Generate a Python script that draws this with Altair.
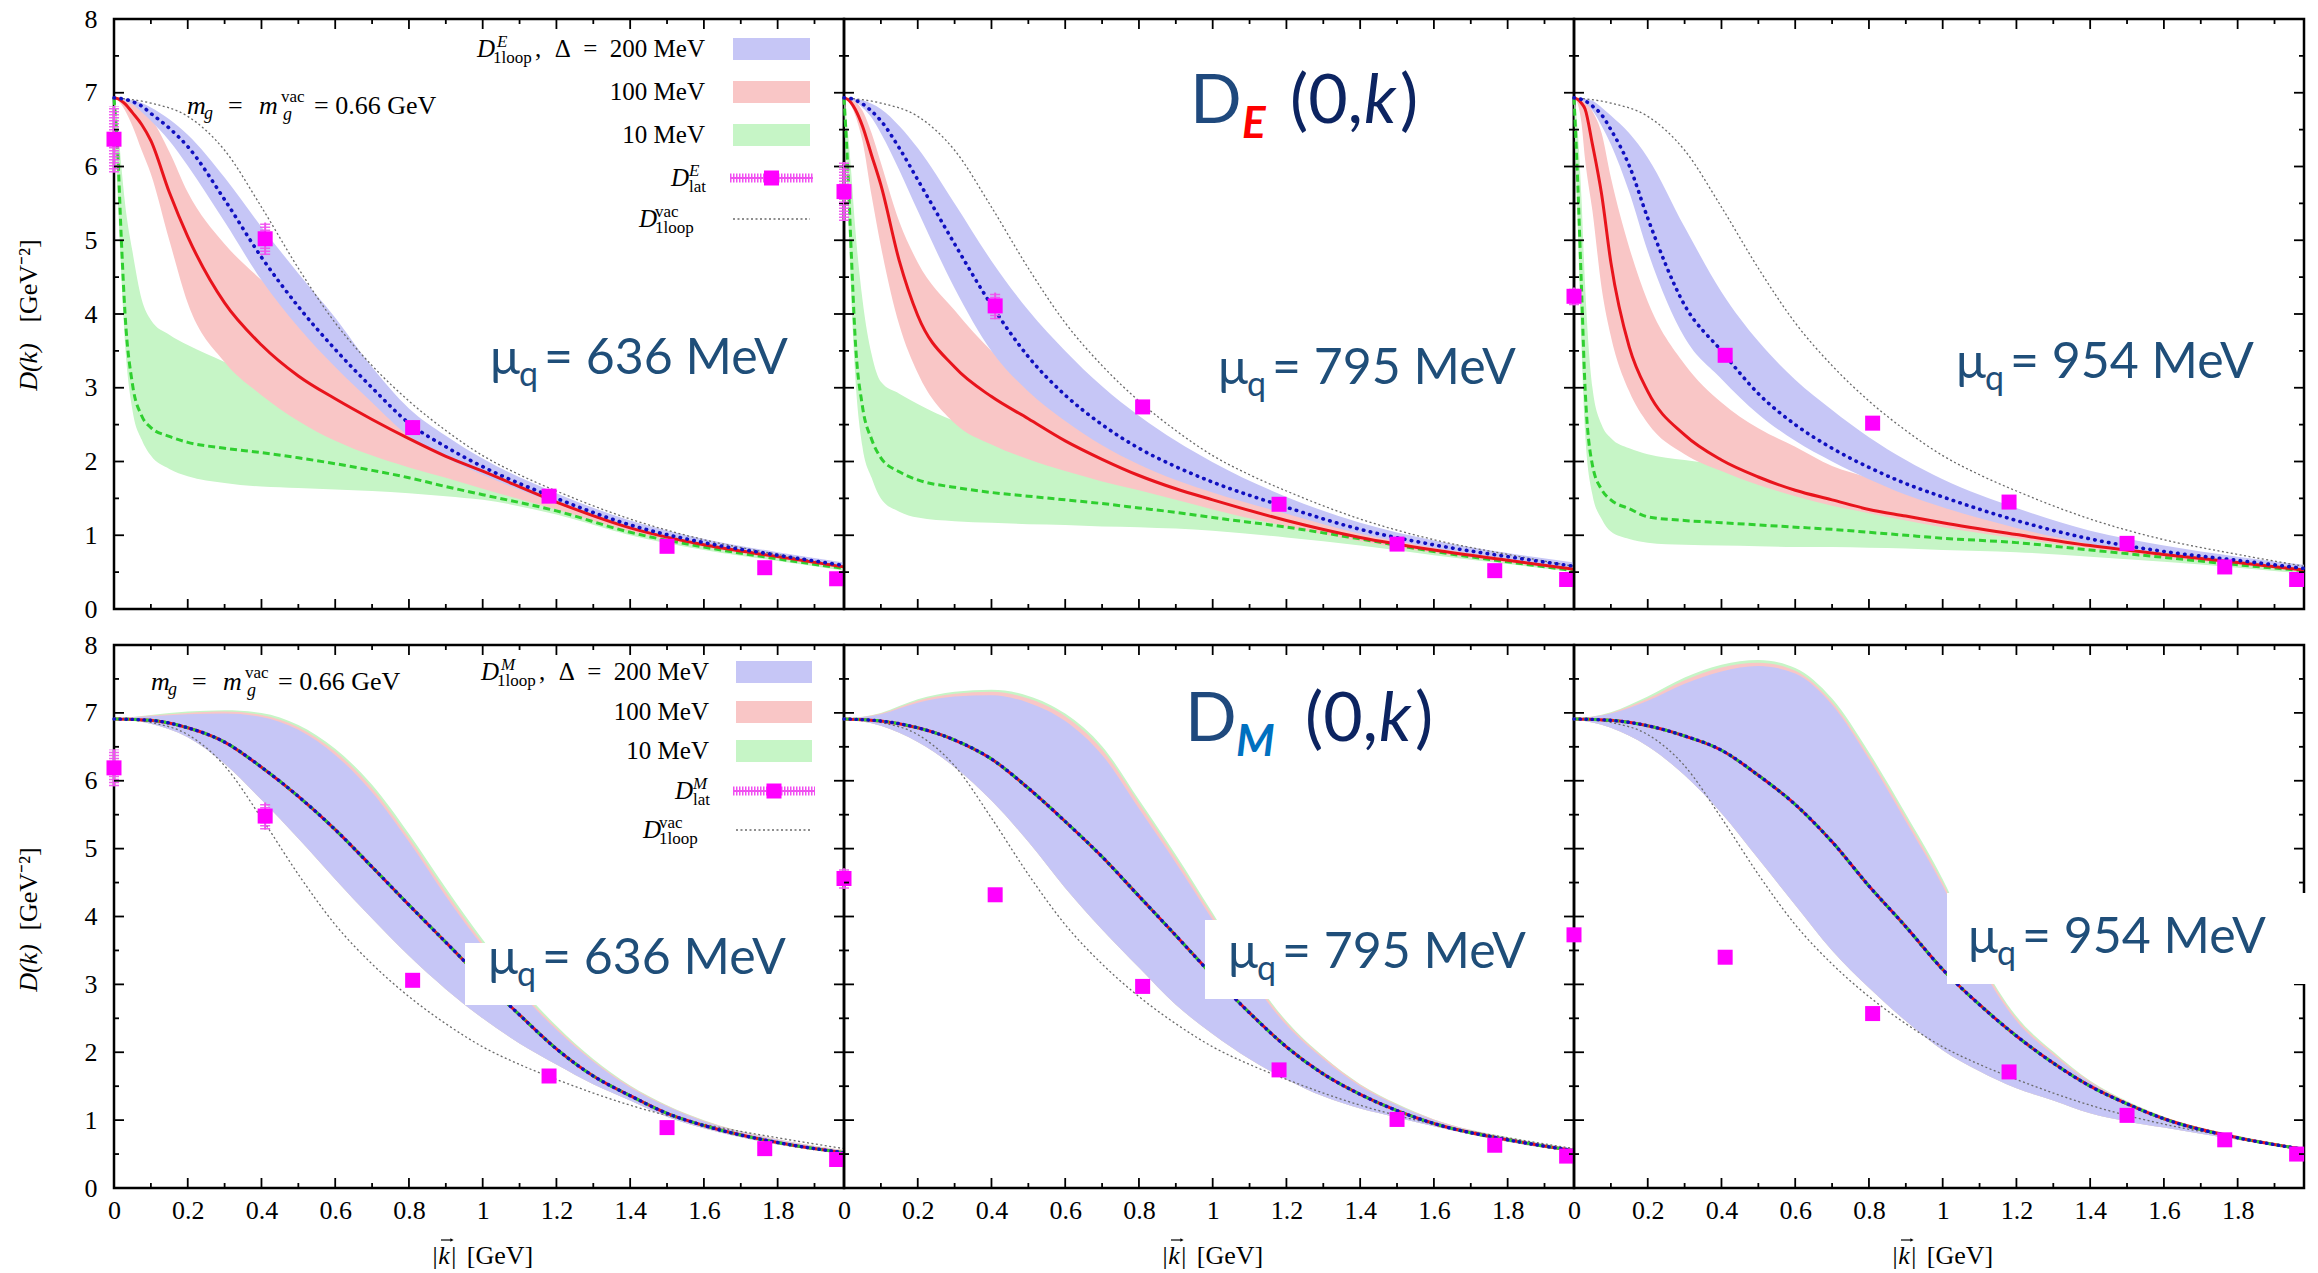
import altair as alt
import pandas as pd

# ------------------------------------------------------------------ data
K_TOP = [0, 0.01, 0.02, 0.03, 0.05, 0.075, 0.1, 0.15, 0.2, 0.3, 0.4, 0.5, 0.6, 0.7, 0.8, 0.9, 1.0, 1.2, 1.4, 1.6, 1.8, 1.98]
K_BOT = [0, 0.1, 0.2, 0.3, 0.4, 0.5, 0.6, 0.7, 0.8, 0.9, 1.0, 1.1, 1.2, 1.3, 1.4, 1.5, 1.6, 1.8, 1.98]
K_VAC = [0, 0.1, 0.2, 0.3, 0.4, 0.5, 0.6, 0.7, 0.8, 0.9, 1.0, 1.1, 1.2, 1.4, 1.6, 1.8, 1.98]
D_VAC = [6.93, 6.86, 6.68, 6.22, 5.45, 4.62, 3.88, 3.30, 2.82, 2.42, 2.08, 1.82, 1.60, 1.22, 0.94, 0.74, 0.58]

K_LAT = [0.0, 0.41, 0.81, 1.18, 1.50, 1.765, 1.96]

# --- electric, mu_q = 636 MeV
E636_BLUE_LO = [6.93,6.92,6.91,6.89,6.84,6.74,6.62,6.35,6.01,5.25,4.46,3.82,3.28,2.80,2.34,2.05,1.82,1.43,1.09,0.86,0.70,0.56]
E636_BLUE_HI = [6.93,6.93,6.93,6.92,6.90,6.86,6.80,6.64,6.43,5.85,5.18,4.55,3.95,3.28,2.72,2.35,2.04,1.57,1.20,0.95,0.77,0.63]
E636_BLUE_LN = [6.93,6.93,6.92,6.91,6.88,6.82,6.72,6.52,6.27,5.55,4.77,4.10,3.52,3.00,2.52,2.20,1.93,1.50,1.14,0.90,0.73,0.59]
E636_RED_LO = [6.93,6.90,6.84,6.76,6.55,6.22,5.90,5.00,4.15,3.35,2.90,2.55,2.28,2.08,1.92,1.78,1.63,1.35,1.05,0.84,0.68,0.55]
E636_RED_HI = [6.93,6.93,6.92,6.90,6.85,6.76,6.65,6.20,5.65,4.95,4.46,4.00,3.55,3.08,2.62,2.28,2.02,1.55,1.16,0.92,0.74,0.60]
E636_RED_LN = [6.93,6.92,6.89,6.85,6.73,6.57,6.35,5.65,5.05,4.15,3.58,3.16,2.85,2.57,2.31,2.07,1.87,1.45,1.10,0.87,0.71,0.57]
E636_GREEN_LO = [6.93,5.60,4.50,3.60,2.70,2.30,2.08,1.90,1.80,1.71,1.66,1.64,1.62,1.60,1.57,1.53,1.48,1.28,1.00,0.80,0.65,0.52]
E636_GREEN_LN = [6.93,6.20,5.00,4.00,3.05,2.62,2.46,2.34,2.26,2.18,2.12,2.05,1.97,1.88,1.78,1.66,1.55,1.33,1.04,0.84,0.68,0.55]
E636_GREEN_HI = [6.93,6.60,6.00,5.50,4.85,4.20,3.92,3.72,3.58,3.35,3.12,2.85,2.60,2.38,2.15,1.95,1.78,1.42,1.08,0.86,0.70,0.57]
E636_LAT = [6.37, 5.02, 2.46, 1.53, 0.85, 0.56, 0.41]
E636_ERR = [0.45, 0.22, 0.10, 0.07, 0.05, 0.04, 0.04]

# --- electric, mu_q = 795 MeV
E795_BLUE_LO = [6.93,6.92,6.91,6.88,6.80,6.66,6.45,5.95,5.40,4.35,3.50,2.95,2.55,2.22,1.96,1.75,1.58,1.29,1.02,0.83,0.68,0.55]
E795_BLUE_HI = [6.93,6.93,6.93,6.92,6.90,6.85,6.78,6.55,6.25,5.50,4.72,4.05,3.50,3.02,2.62,2.28,1.99,1.52,1.17,0.93,0.76,0.63]
E795_BLUE_LN = [6.93,6.93,6.92,6.90,6.85,6.75,6.62,6.25,5.82,4.95,4.12,3.42,2.90,2.50,2.18,1.93,1.72,1.38,1.08,0.87,0.71,0.58]
E795_RED_LO = [6.93,6.90,6.82,6.70,6.35,5.60,4.92,3.85,3.20,2.52,2.23,2.03,1.87,1.73,1.61,1.48,1.35,1.12,0.92,0.76,0.63,0.52]
E795_RED_HI = [6.93,6.93,6.91,6.88,6.76,6.45,6.05,5.25,4.70,4.05,3.50,3.10,2.78,2.50,2.27,2.07,1.88,1.45,1.10,0.88,0.72,0.59]
E795_RED_LN = [6.93,6.91,6.86,6.78,6.55,6.15,5.75,4.72,3.98,3.28,2.88,2.58,2.28,2.03,1.81,1.63,1.48,1.20,0.97,0.80,0.66,0.54]
E795_GREEN_LO = [6.93,5.50,4.20,3.20,2.20,1.78,1.50,1.32,1.24,1.19,1.17,1.15,1.14,1.12,1.11,1.09,1.06,0.97,0.86,0.73,0.61,0.50]
E795_GREEN_LN = [6.93,6.00,4.80,3.70,2.75,2.30,2.05,1.86,1.75,1.65,1.58,1.53,1.48,1.43,1.37,1.31,1.24,1.11,0.95,0.78,0.64,0.52]
E795_GREEN_HI = [6.93,6.50,5.90,5.20,4.20,3.45,3.08,2.92,2.78,2.55,2.40,2.25,2.10,1.96,1.82,1.68,1.55,1.30,1.02,0.82,0.67,0.55]
E795_LAT = [5.66, 4.11, 2.74, 1.42, 0.88, 0.52, 0.40]
E795_ERR = [0.40, 0.18, 0.08, 0.06, 0.05, 0.04, 0.03]

# --- electric, mu_q = 954 MeV
E954_BLUE_LO = [6.93,6.92,6.90,6.86,6.76,6.55,6.30,5.65,4.85,3.68,3.12,2.64,2.28,2.00,1.76,1.55,1.38,1.10,0.88,0.73,0.62,0.52]
E954_BLUE_HI = [6.93,6.93,6.93,6.92,6.89,6.80,6.69,6.45,6.12,5.18,4.30,3.63,3.11,2.70,2.33,2.02,1.76,1.37,1.06,0.86,0.71,0.60]
E954_BLUE_LN = [6.93,6.93,6.91,6.89,6.82,6.70,6.50,6.01,5.30,4.12,3.50,2.92,2.50,2.18,1.92,1.70,1.52,1.20,0.95,0.78,0.66,0.55]
E954_RED_LO = [6.93,6.85,6.60,6.10,5.40,4.35,3.70,2.95,2.52,2.10,1.87,1.68,1.53,1.40,1.30,1.20,1.11,0.96,0.82,0.70,0.60,0.50]
E954_RED_HI = [6.93,6.93,6.91,6.88,6.75,6.45,5.85,4.90,4.17,3.32,2.80,2.45,2.20,1.94,1.78,1.62,1.50,1.24,1.00,0.82,0.69,0.57]
E954_RED_LN = [6.93,6.91,6.86,6.78,6.30,5.62,4.70,3.55,2.95,2.36,2.02,1.79,1.61,1.48,1.35,1.26,1.17,1.01,0.86,0.74,0.63,0.53]
E954_GREEN_LO = [6.93,5.20,3.60,2.40,1.55,1.22,1.05,0.95,0.90,0.87,0.86,0.85,0.84,0.84,0.83,0.82,0.80,0.77,0.71,0.64,0.56,0.48]
E954_GREEN_LN = [6.93,5.80,4.40,3.00,1.95,1.62,1.48,1.36,1.25,1.20,1.17,1.14,1.11,1.08,1.04,1.00,0.96,0.90,0.80,0.70,0.60,0.52]
E954_GREEN_HI = [6.93,6.50,5.60,4.40,3.00,2.50,2.32,2.18,2.10,2.02,1.95,1.85,1.75,1.65,1.55,1.45,1.36,1.15,0.95,0.78,0.66,0.55]
E954_LAT = [4.24, 3.44, 2.52, 1.45, 0.89, 0.57, 0.40]
E954_ERR = [0.12, 0.06, 0.05, 0.05, 0.04, 0.03, 0.03]

# --- magnetic, mu_q = 636 MeV  (the three Delta curves coincide)
M636_LN = [6.91,6.89,6.78,6.57,6.20,5.77,5.28,4.73,4.17,3.62,3.07,2.55,2.05,1.65,1.36,1.10,0.92,0.67,0.52]
M636_BAND_LO = [6.91,6.84,6.64,6.25,5.72,5.15,4.55,3.97,3.42,2.93,2.50,2.13,1.82,1.53,1.29,1.05,0.88,0.64,0.50]
M636_BLUE_HI = [6.91,6.95,6.98,6.99,6.94,6.75,6.38,5.83,5.10,4.30,3.56,2.89,2.33,1.86,1.48,1.20,0.98,0.71,0.55]
M636_RED_HI = [6.91,6.96,7.00,7.02,6.97,6.79,6.43,5.89,5.16,4.36,3.61,2.93,2.36,1.88,1.50,1.21,0.99,0.72,0.56]
M636_GREEN_HI = [6.91,6.97,7.02,7.04,7.00,6.82,6.47,5.94,5.22,4.42,3.66,2.97,2.39,1.90,1.51,1.22,1.00,0.72,0.56]
M636_LAT = [6.19, 5.48, 3.06, 1.65, 0.89, 0.58, 0.42]
M636_ERR = [0.27, 0.20, 0.10, 0.06, 0.04, 0.03, 0.03]

# --- magnetic, mu_q = 795 MeV
M795_LN = [6.91,6.88,6.78,6.60,6.32,5.89,5.40,4.88,4.30,3.72,3.13,2.58,2.08,1.68,1.38,1.14,0.95,0.71,0.55]
M795_BAND_LO = [6.91,6.81,6.57,6.20,5.71,5.10,4.42,3.81,3.25,2.70,2.27,1.90,1.60,1.35,1.17,1.04,0.91,0.68,0.53]
M795_BLUE_HI = [6.91,6.98,7.15,7.24,7.26,7.15,6.88,6.38,5.59,4.79,3.95,3.10,2.40,1.90,1.50,1.22,1.00,0.74,0.58]
M795_RED_HI = [6.91,6.99,7.18,7.28,7.31,7.21,6.95,6.46,5.67,4.86,4.01,3.15,2.44,1.93,1.52,1.23,1.01,0.74,0.58]
M795_GREEN_HI = [6.91,7.00,7.20,7.31,7.34,7.25,6.99,6.51,5.72,4.91,4.05,3.18,2.46,1.94,1.53,1.24,1.01,0.75,0.58]
M795_LAT = [4.56, 4.32, 2.97, 1.74, 1.01, 0.63, 0.47]
M795_ERR = [0.15, 0.08, 0.05, 0.04, 0.03, 0.03, 0.02]

# --- magnetic, mu_q = 954 MeV
M954_LN = [6.91,6.89,6.81,6.66,6.45,6.08,5.65,5.10,4.45,3.85,3.22,2.70,2.24,1.84,1.50,1.24,1.02,0.74,0.57]
M954_BAND_LO = [6.91,6.78,6.51,6.08,5.52,4.85,4.17,3.50,2.95,2.46,2.03,1.72,1.47,1.29,1.10,0.98,0.89,0.71,0.56]
M954_BLUE_HI = [6.91,6.99,7.18,7.43,7.61,7.69,7.58,7.12,6.32,5.40,4.45,3.30,2.46,1.96,1.55,1.26,1.04,0.76,0.59]
M954_RED_HI = [6.91,7.00,7.21,7.48,7.67,7.74,7.62,7.16,6.37,5.46,4.50,3.35,2.50,1.99,1.57,1.27,1.05,0.77,0.59]
M954_GREEN_HI = [6.91,7.01,7.24,7.52,7.71,7.78,7.66,7.21,6.42,5.51,4.55,3.39,2.53,2.01,1.58,1.28,1.05,0.77,0.59]
M954_LAT = [3.73, 3.40, 2.57, 1.71, 1.07, 0.71, 0.50]
M954_ERR = [0.06, 0.04, 0.03, 0.03, 0.02, 0.02, 0.02]

# tick values
X_LABELS = [0, 0.2, 0.4, 0.6, 0.8, 1, 1.2, 1.4, 1.6, 1.8]
X_MAJOR = [0.2, 0.4, 0.6, 0.8, 1.0, 1.2, 1.4, 1.6, 1.8]
X_MINOR = [0.1, 0.3, 0.5, 0.7, 0.9, 1.1, 1.3, 1.5, 1.7, 1.9]
Y_LABELS = [0, 1, 2, 3, 4, 5, 6, 7, 8]
Y_MAJOR = [1, 2, 3, 4, 5, 6, 7]
Y_MINOR = [0.5, 1.5, 2.5, 3.5, 4.5, 5.5, 6.5, 7.5]

# ------------------------------------------------------------------ style
SERIF = "Liberation Serif"
SANS = "Lato"
W = 730
HT = 590
HB = 543
XDOM = [0, 1.98]

BLUE_BAND = "#c6c6f6"
RED_BAND = "#f9c6c6"
GREEN_BAND = "#c6f5c6"
RED_LINE = "#e8141c"
BLUE_LINE = "#1010c0"
GREEN_LINE = "#2fcf2f"
MAG = "#ff00ff"
MAG_BAR = "#f050f0"
VAC = "#6a6a6a"
MU_COL = "#1f4e79"

ONE = pd.DataFrame({"a": [0]})


def encoders(xaxis, yaxis):
    def X(f):
        return alt.X(f"{f}:Q", scale=alt.Scale(domain=XDOM, nice=False, zero=False), axis=xaxis)

    def Y(f):
        return alt.Y(f"{f}:Q", scale=alt.Scale(domain=[0, 8], nice=False, zero=False), axis=yaxis)
    return X, Y


def T(s, x, y, size, font=SERIF, color="black", style="normal", weight="normal",
      align="left", baseline="middle", angle=None):
    props = dict(text=s, font=font, fontSize=size, color=color, fontStyle=style,
                 fontWeight=weight, align=align, baseline=baseline)
    if angle is not None:
        props["angle"] = angle
    return alt.Chart(ONE).mark_text(**props).encode(x=alt.value(x), y=alt.value(y))


def box(x1, x2, y1, y2, color):
    return alt.Chart(ONE).mark_rect(color=color).encode(
        x=alt.value(x1), x2=alt.value(x2), y=alt.value(y1), y2=alt.value(y2))


def band(X, Y, k, lo, hi, color):
    assert len(k) == len(lo) == len(hi)
    df = pd.DataFrame({"k": k, "lo": lo, "hi": hi})
    return alt.Chart(df).mark_area(color=color, opacity=1, interpolate="monotone").encode(
        x=X("k"), y=Y("lo"), y2=alt.Y2("hi"))


def curve(X, Y, k, v, color, width, dash=None, cap="butt"):
    assert len(k) == len(v)
    df = pd.DataFrame({"k": k, "v": v})
    props = dict(color=color, strokeWidth=width, interpolate="monotone", strokeCap=cap)
    if dash:
        props["strokeDash"] = dash
    return alt.Chart(df).mark_line(**props).encode(x=X("k"), y=Y("v"))


def lattice(X, Y, vals, errs):
    df = pd.DataFrame({"k": K_LAT, "v": vals,
                       "lo": [v - e for v, e in zip(vals, errs)],
                       "hi": [v + e for v, e in zip(vals, errs)]})
    ladder = alt.Chart(df).mark_rule(color=MAG_BAR, strokeWidth=10, strokeDash=[1.5, 1.5], opacity=0.9).encode(
        x=X("k"), y=Y("lo"), y2=alt.Y2("hi"))
    stem = alt.Chart(df).mark_rule(color=MAG_BAR, strokeWidth=2).encode(
        x=X("k"), y=Y("lo"), y2=alt.Y2("hi"))
    sq = alt.Chart(df).mark_square(color=MAG, size=225, opacity=1).encode(x=X("k"), y=Y("v"))
    return [ladder, stem, sq]


def ticks(X, Y, H):
    out = []
    base = dict(color="black", strokeWidth=1.8)
    for vals, ln in [(X_MAJOR, 10), (X_MINOR, 5)]:
        df = pd.DataFrame({"t": vals})
        out.append(alt.Chart(df).mark_rule(**base).encode(x=X("t"), y=alt.value(H), y2=alt.value(H - ln)))
        out.append(alt.Chart(df).mark_rule(**base).encode(x=X("t"), y=alt.value(0), y2=alt.value(ln)))
    for vals, ln in [(Y_MAJOR, 10), (Y_MINOR, 5)]:
        df = pd.DataFrame({"t": vals})
        out.append(alt.Chart(df).mark_rule(**base).encode(y=Y("t"), x=alt.value(0), x2=alt.value(ln)))
        out.append(alt.Chart(df).mark_rule(**base).encode(y=Y("t"), x=alt.value(W), x2=alt.value(W - ln)))
    return out


def legend(R, S1, S2, rows, sup):
    y1, y2, y3, y4, y5 = rows
    out = []
    for y, col in [(y1, BLUE_BAND), (y2, RED_BAND), (y3, GREEN_BAND)]:
        out.append(box(S1, S2, y - 11, y + 11, col))
    mid = (S1 + S2) / 2
    out.append(alt.Chart(ONE).mark_rule(color=MAG_BAR, strokeWidth=9, strokeDash=[1.5, 1.5]).encode(
        x=alt.value(S1 - 3), x2=alt.value(S2 + 3), y=alt.value(y4)))
    out.append(alt.Chart(ONE).mark_rule(color=MAG_BAR, strokeWidth=2).encode(
        x=alt.value(S1 - 3), x2=alt.value(S2 + 3), y=alt.value(y4)))
    out.append(alt.Chart(ONE).mark_square(color=MAG, size=225, opacity=1).encode(
        x=alt.value(mid), y=alt.value(y4)))
    out.append(alt.Chart(ONE).mark_rule(color=VAC, strokeWidth=1.3, strokeDash=[2, 2.5]).encode(
        x=alt.value(S1), x2=alt.value(S2), y=alt.value(y5)))
    fs, ss = 25, 17
    out += [
        T("D", R - 228, y1, fs, style="italic"),
        T(sup, R - 208, y1 - 7, ss, style="italic"),
        T("1loop", R - 212, y1 + 9, ss),
        T(",", R - 170, y1, fs),
        T("Δ\u2002=\u2002200 MeV", R, y1, fs, align="right"),
        T("100 MeV", R, y2, fs, align="right"),
        T("10 MeV", R, y3, fs, align="right"),
        T("D", R - 34, y4, fs, style="italic"),
        T(sup, R - 16, y4 - 7, ss, style="italic"),
        T("lat", R - 16, y4 + 9, ss),
        T("D", R - 66, y5, fs, style="italic"),
        T("vac", R - 50, y5 - 7, ss),
        T("1loop", R - 50, y5 + 9, ss),
    ]
    return out


def mg_text(L, C):
    return [
        T("m", L, C, 26, style="italic"),
        T("g", L + 17, C + 8, 18, style="italic"),
        T("=", L + 41, C, 26),
        T("m", L + 72, C, 26, style="italic"),
        T("vac", L + 94, C - 9, 17),
        T("g", L + 96, C + 9, 18, style="italic"),
        T("= 0.66 GeV", L + 127, C, 26),
    ]


def mu_text(L, B, value):
    return [
        T("μ", L, B, 50, font=SANS, color=MU_COL, baseline="alphabetic"),
        T("q", L + 29, B + 12, 34, font=SANS, color=MU_COL, baseline="alphabetic"),
        T(f"= {value} MeV", L + 54, B, 50, font=SANS, color=MU_COL, baseline="alphabetic"),
    ]


def title_text(L, B, sub, sub_color, sub_dx, paren_dx):
    return [
        T("D", L, B, 68, font=SANS, color="#1f497d", baseline="alphabetic"),
        T(sub, L + sub_dx, B + 15, 44, font=SANS, color=sub_color, style="italic", weight="bold",
          baseline="alphabetic"),
        T("(0,", L + paren_dx, B, 68, font=SANS, color="#0c2461", baseline="alphabetic"),
        T("k", L + paren_dx + 74, B, 68, font=SANS, color="#0c2461", style="italic", baseline="alphabetic"),
        T(")", L + paren_dx + 110, B, 68, font=SANS, color="#0c2461", baseline="alphabetic"),
    ]


def xaxis_bottom():
    return alt.Axis(values=X_LABELS, format="~g", labelFont=SERIF, labelFontSize=26, labelColor="black",
                    ticks=False, domain=False, grid=False, title=None, labelPadding=9,
                    labelOverlap=False, labelFlush=False, labelBound=False)


def yaxis_left():
    return alt.Axis(values=Y_LABELS, format="d", labelFont=SERIF, labelFontSize=26, labelColor="black",
                    ticks=False, domain=False, grid=False, title=None, labelPadding=17,
                    labelOverlap=False, labelFlush=False, labelBound=False)


def top_panel(blue, red, green, lat, err, first, extras):
    X, Y = encoders(None, yaxis_left() if first else None)
    L = [
        band(X, Y, K_TOP, green[0], green[1], GREEN_BAND),
        band(X, Y, K_TOP, red[0], red[1], RED_BAND),
        band(X, Y, K_TOP, blue[0], blue[1], BLUE_BAND),
        curve(X, Y, K_VAC, D_VAC, VAC, 1.3, dash=[2, 2.5]),
        curve(X, Y, K_TOP, green[2], GREEN_LINE, 3, dash=[7, 4]),
        curve(X, Y, K_TOP, red[2], RED_LINE, 3),
        curve(X, Y, K_TOP, blue[2], BLUE_LINE, 3.6, dash=[0.5, 6.5], cap="round"),
    ]
    L += lattice(X, Y, lat, err)
    L += ticks(X, Y, HT)
    L += extras
    return alt.layer(*L).properties(width=W, height=HT)


def bottom_panel(ln, lo, blue_hi, red_hi, green_hi, lat, err, first, extras):
    X, Y = encoders(xaxis_bottom(), yaxis_left() if first else None)
    L = [
        band(X, Y, K_BOT, lo, green_hi, GREEN_BAND),
        band(X, Y, K_BOT, lo, red_hi, RED_BAND),
        band(X, Y, K_BOT, lo, blue_hi, BLUE_BAND),
        curve(X, Y, K_VAC, D_VAC, VAC, 1.3, dash=[2, 2.5]),
        curve(X, Y, K_BOT, ln, RED_LINE, 3),
        curve(X, Y, K_BOT, ln, GREEN_LINE, 3, dash=[5, 5]),
        curve(X, Y, K_BOT, ln, BLUE_LINE, 3.4, dash=[0.5, 5.5], cap="round"),
    ]
    L += lattice(X, Y, lat, err)
    L += ticks(X, Y, HB)
    L += extras
    # x-axis title: |k| with a small vector arrow, then [GeV]
    L += [T("|k|", 330, HB + 68, 26, style="italic", align="center"),
          alt.Chart(ONE).mark_rule(color="black", strokeWidth=1.2).encode(
              x=alt.value(327), x2=alt.value(338), y=alt.value(HB + 52)),
          alt.Chart(ONE).mark_point(shape="triangle-right", filled=True, size=14, color="black", opacity=1).encode(
              x=alt.value(338), y=alt.value(HB + 52)),
          T("[GeV]", 386, HB + 68, 26, align="center")]
    return alt.layer(*L).properties(width=W, height=HB)


# ------------------------------------------------------------------ panels
p1_extra = (
    [alt.Chart(ONE).mark_point(filled=True, size=1, color="white", opacity=1).encode(
        x=alt.value(-112), y=alt.value(-17))]
    + [T("D(k)", -85, 348, 26, style="italic", align="center", angle=270),
       T("[GeV⁻²]", -85, 262, 26, align="center", angle=270)]
    + legend(591, 619, 696, [30, 73, 116, 159, 200], "E")
    + mg_text(73, 87)
    + mu_text(376, 355, "636")
)
p2_extra = title_text(346, 104, "E", "#ff0000", 52, 100) + mu_text(374, 365, "795")
p3_extra = mu_text(382, 359, "954")

p4_extra = (
    [T("D(k)", -85, 323, 26, style="italic", align="center", angle=270),
     T("[GeV⁻²]", -85, 244, 26, align="center", angle=270)]
    + legend(595, 622, 698, [27, 67, 106, 146, 185], "M")
    + mg_text(37, 37)
    + [box(351, 679, 298, 360, "white")]
    + mu_text(374, 329, "636")
)
p5_extra = (
    title_text(341, 96, "M", "#0070c0", 51, 120)
    + [box(361, 685, 275, 354, "white")]
    + mu_text(384, 323, "795")
)
p6_extra = [box(373, 736, 248, 339, "white")] + mu_text(394, 308, "954")

p1 = top_panel((E636_BLUE_LO, E636_BLUE_HI, E636_BLUE_LN), (E636_RED_LO, E636_RED_HI, E636_RED_LN),
               (E636_GREEN_LO, E636_GREEN_HI, E636_GREEN_LN), E636_LAT, E636_ERR, True, p1_extra)
p2 = top_panel((E795_BLUE_LO, E795_BLUE_HI, E795_BLUE_LN), (E795_RED_LO, E795_RED_HI, E795_RED_LN),
               (E795_GREEN_LO, E795_GREEN_HI, E795_GREEN_LN), E795_LAT, E795_ERR, False, p2_extra)
p3 = top_panel((E954_BLUE_LO, E954_BLUE_HI, E954_BLUE_LN), (E954_RED_LO, E954_RED_HI, E954_RED_LN),
               (E954_GREEN_LO, E954_GREEN_HI, E954_GREEN_LN), E954_LAT, E954_ERR, False, p3_extra)

p4 = bottom_panel(M636_LN, M636_BAND_LO, M636_BLUE_HI, M636_RED_HI, M636_GREEN_HI, M636_LAT, M636_ERR, True, p4_extra)
p5 = bottom_panel(M795_LN, M795_BAND_LO, M795_BLUE_HI, M795_RED_HI, M795_GREEN_HI, M795_LAT, M795_ERR, False, p5_extra)
p6 = bottom_panel(M954_LN, M954_BAND_LO, M954_BLUE_HI, M954_RED_HI, M954_GREEN_HI, M954_LAT, M954_ERR, False, p6_extra)

chart = alt.concat(p1, p2, p3, p4, p5, p6, columns=3,
                   spacing={"row": 36, "column": 0}, bounds="flush",
                   padding={"left": 0, "top": 0, "right": 0, "bottom": 0},
                   background="white").configure_view(stroke="black", strokeWidth=2.5)

chart.save("out.html", embed_options={"renderer": "svg", "actions": False})
